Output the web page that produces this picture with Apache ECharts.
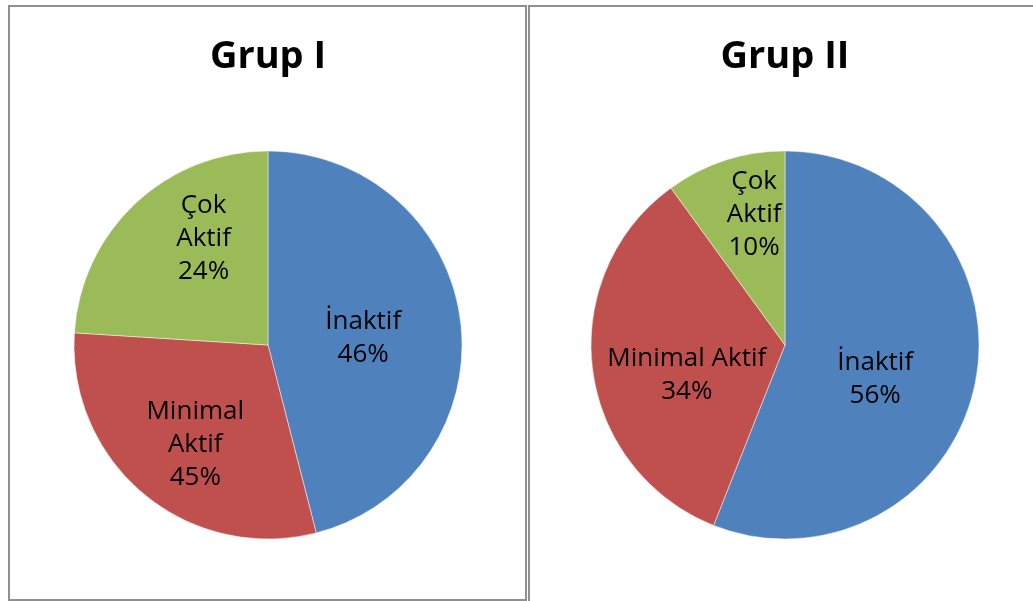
<!DOCTYPE html>
<html>
<head>
<meta charset="utf-8">
<script src="https://cdn.jsdelivr.net/npm/echarts@6/dist/echarts.min.js"></script>
<style>
  html, body { margin: 0; padding: 0; background: #fff; overflow: hidden; }
  .box {
    position: absolute;
    box-sizing: border-box;
    border: 2px solid #8f8f8f;
  }
  #boxOne { left: 8px; top: 5px; width: 519px; height: 596px; }
  #boxTwo { left: 528px; top: 5px; width: 620px; height: 700px; border-right: none; border-bottom: none; }
  .chart { position: absolute; left: 0; top: 0; height: 592px; }
  #grupOne { width: 516px; }
  #grupTwo { width: 510px; }
</style>
</head>
<body>
<div class="box" id="boxOne"><div class="chart" id="grupOne"></div></div>
<div class="box" id="boxTwo"><div class="chart" id="grupTwo"></div></div>

<script>
// kategoriler
var categories = ["İnaktif", "Minimal Aktif", "Çok Aktif"];
var colors = ["#4F81BD", "#C0504D", "#9BBB59"];

// Grup I - dilim büyüklükleri, etiketler resimdeki yazı
var grupOneValues = [46, 30, 24];
var grupOneLabels = ["46%", "45%", "24%"];
var grupOneWrap = [false, true, true];

// Grup II
var grupTwoValues = [56, 34, 10];
var grupTwoLabels = ["56%", "34%", "10%"];
var grupTwoWrap = [false, false, true];

function buildData(values, labels, wrap, shifts) {
  var data = [];
  values.forEach(function (v, i) {
    var name = categories[i];
    var text = (wrap[i] ? name.replace(" ", "\n") : name) + "\n" + labels[i];
    data.push({
      name: name,
      value: v,
      itemStyle: { color: colors[i] },
      label: { formatter: text, offset: shifts[i] }
    });
  });
  return data;
}

function drawPie(domId, title, data) {
  var chart = echarts.init(document.getElementById(domId));
  chart.setOption({
    animation: false,
    title: {
      text: title,
      left: "center",
      top: 26,
      textStyle: {
        fontFamily: "Open Sans",
        fontWeight: "bold",
        fontSize: 38,
        color: "#000"
      }
    },
    series: [
      {
        type: "pie",
        radius: 194,
        center: ["50%", 338],
        startAngle: 90,
        clockwise: true,
        data: data,
        itemStyle: {
          borderColor: "rgba(255,255,255,0.6)",
          borderWidth: 0.8
        },
        label: {
          show: true,
          position: "inside",
          fontFamily: "Open Sans",
          fontSize: 26,
          lineHeight: 33,
          color: "#000",
          align: "center"
        },
        labelLine: { show: false },
        emphasis: { disabled: true }
      }
    ]
  });
  return chart;
}

var grupOne = drawPie("grupOne", "Grup I",
  buildData(grupOneValues, grupOneLabels, grupOneWrap, [[-4, 6], [-9, 23], [4, -34]]));
var grupTwo = drawPie("grupTwo", "Grup II",
  buildData(grupTwoValues, grupTwoLabels, grupTwoWrap, [[-8, 15], [1, 18], [0, -35]]));
</script>
</body>
</html>
